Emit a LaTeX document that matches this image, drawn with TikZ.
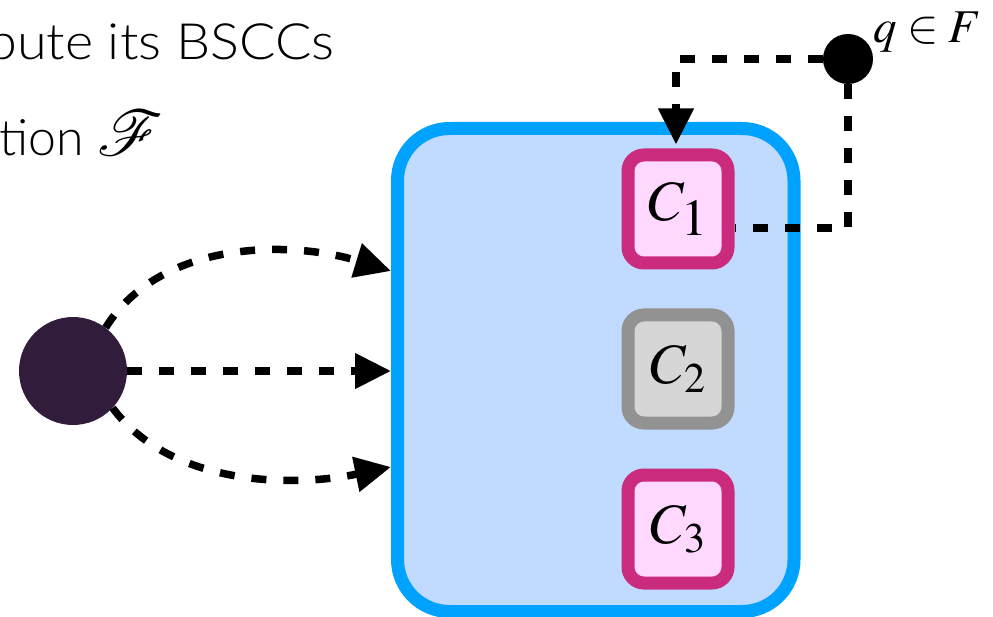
\documentclass[tikz,border=0pt]{standalone}
\usepackage{mathptmx}
\usepackage{mathrsfs}
\DeclareFontFamily{U}{rsfs}{\skewchar\font127 }
\DeclareFontShape{U}{rsfs}{m}{n}{<-> rsfs10}{}
\usepackage{fontspec}
\newfontfamily\lightsans{Lato Light}
\usetikzlibrary{arrows.meta}
\definecolor{boxblue}{RGB}{0,162,255}
\definecolor{boxfill}{RGB}{192,219,255}
\definecolor{magborder}{RGB}{203,43,124}
\definecolor{magfill}{RGB}{255,216,255}
\definecolor{grayborder}{RGB}{146,146,146}
\definecolor{grayfill}{RGB}{214,214,214}
\definecolor{srcfill}{RGB}{50,28,60}
\tikzset{
  conn/.style={line width=7.5pt, dash pattern=on 15pt off 17pt, black},
  tipped/.style={-{Triangle[length=36pt,width=34pt]}},
  sccbox/.style={rectangle, rounded corners=16pt, line width=13pt,
    minimum width=100pt, minimum height=108pt, inner sep=0pt,
    font=\fontsize{57}{60}\selectfont},
  pinkscc/.style={sccbox, draw=magborder, fill=magfill},
  grayscc/.style={sccbox, draw=grayborder, fill=grayfill},
  headline/.style={anchor=base west, inner sep=0pt, font=\lightsans\fontsize{50}{56}\selectfont},
}
\begin{document}
\begin{tikzpicture}[x=1pt,y=-1pt]
\useasboundingbox (0,0) rectangle (993,617);
% heading text
\node[headline] (h1) at (-13,60) {\scalebox{1.08}[1]{pute its BSCCs}};
\node[headline] (h2) at (-1,156) {tion {\fontsize{64}{64}\selectfont$\mathscr{F}$}};
% big box
\node[rectangle, rounded corners=52pt, line width=13pt, draw=boxblue, fill=boxfill,
  minimum width=396.5pt, minimum height=483pt, inner sep=0pt] (bscc) at (595.75,370) {};
% SCC boxes
\node[pinkscc] (c1) at (678,209) {$C_{\mbox{\fontsize{52}{52}\selectfont$1$}}$};
\node[grayscc] (c2) at (678,369) {$C_2$};
\node[pinkscc] (c3) at (678,529) {$C_3$};
% source state
\node[circle, fill=srcfill, minimum size=108pt, inner sep=0pt] (src) at (73,371) {};
% final state q
\node[circle, fill=black, minimum size=50pt, inner sep=0pt] (q) at (848,59) {};
\node[anchor=base west, inner sep=0pt, font=\fontsize{47}{50}\selectfont] (ql) at (873,43) {$q\in F$};
% connectors
\draw[conn, tipped] (src.53) .. controls (160,240) and (290,240) .. ([yshift=99pt]bscc.west);
\draw[conn, tipped] (src.east) -- ([yshift=-1pt]bscc.west);
\draw[conn, tipped] (src.-43) .. controls (170,485) and (290,488) .. ([yshift=-97pt]bscc.west);
\draw[conn, tipped, shorten >=4pt] (q.west) -| ([xshift=-2pt]c1.north);
\draw[conn] (q.south) |- ([yshift=-19pt]c1.east);
\end{tikzpicture}
\end{document}
